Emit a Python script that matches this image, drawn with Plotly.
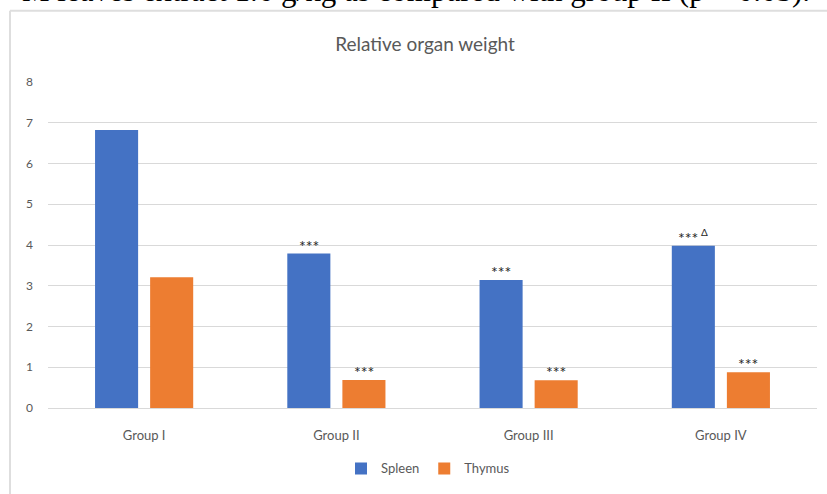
import plotly.graph_objects as go

# Relative organ weight per treatment group
groups = ["Group I", "Group II", "Group III", "Group IV"]
spleen = [6.82, 3.79, 3.14, 3.98]
thymus = [3.21, 0.69, 0.68, 0.88]
spleen_marks = ["", "***", "***", "***"]
thymus_marks = ["", "***", "***", "***"]
spleen_extra = ["", "", "", "Δ"]
y_ticks = [0, 1, 2, 3, 4, 5, 6, 7, 8]

W, H = 827, 494
ML, MR, MT, MB = 48, 10, 82, 83
PW, PH = W - ML - MR, H - MT - MB


def px_x(px):
    return (px - ML) / PW


def px_y(py):
    return (H - MB - py) / PH


grey = "#595959"
font_family = "Lato, 'Open Sans', sans-serif"

fig = go.Figure()
fig.add_trace(go.Bar(name="Spleen", x=groups, y=spleen, marker_color="#4472C4",
                     marker_line_width=0))
fig.add_trace(go.Bar(name="Thymus", x=groups, y=thymus, marker_color="#ED7D31",
                     marker_line_width=0))

annotations = []
mark_font = dict(size=16, color="#262626", family=font_family)
for g, v, t, extra in zip(groups, spleen, spleen_marks, spleen_extra):
    if t:
        # when a second marker follows, the asterisks move left to make room
        shift = -33 if extra else -27.5
        annotations.append(dict(x=g, y=v, xref="x", yref="y", text=t, showarrow=False,
                                xshift=shift, yshift=-3, yanchor="bottom", font=mark_font))
    if extra:
        annotations.append(dict(x=g, y=v, xref="x", yref="y", text=extra, showarrow=False,
                                xshift=-16, yshift=6, yanchor="bottom",
                                font=dict(size=10, color="#262626", family=font_family)))
for g, v, t in zip(groups, thymus, thymus_marks):
    if t:
        annotations.append(dict(x=g, y=v, xref="x", yref="y", text=t, showarrow=False,
                                xshift=27.5, yshift=-3, yanchor="bottom", font=mark_font))

# Line of running text sitting just above the chart frame
annotations.append(dict(
    x=px_x(812), y=px_y(-10.5), xref="paper", yref="paper", xanchor="right", yanchor="middle",
    text="M leaves extract 1.6 g/kg as compared with group II (p < 0.05).",
    showarrow=False, font=dict(size=31, color="#000000", family="'Liberation Serif', serif")))

shapes = [
    dict(type="line", xref="paper", yref="paper", x0=px_x(10), x1=px_x(10),
         y0=px_y(10), y1=px_y(H + 5), line=dict(color="#dedede", width=2)),
    dict(type="line", xref="paper", yref="paper", x0=px_x(10), x1=px_x(W + 5),
         y0=px_y(10), y1=px_y(10), line=dict(color="#dedede", width=2)),
]

fig.update_layout(
    width=W, height=H,
    margin=dict(l=ML, r=MR, t=MT, b=MB),
    paper_bgcolor="white", plot_bgcolor="white",
    barmode="group", bargap=0.427, bargroupgap=0.218,
    title=dict(text="Relative organ weight", x=425 / W, xanchor="center",
               y=1 - 44 / H, yanchor="middle",
               font=dict(size=19, color=grey, family=font_family)),
    font=dict(family=font_family, color=grey),
    legend=dict(orientation="h", x=px_x(428), xanchor="center", y=px_y(472), yanchor="middle",
                font=dict(size=13, color=grey), itemwidth=30, traceorder="normal"),
    annotations=annotations,
    shapes=shapes,
    xaxis=dict(showgrid=False, showline=False, ticks="", ticklabelstandoff=18,
               tickfont=dict(size=13, color=grey)),
    yaxis=dict(range=[0, 8], tickvals=y_ticks, showgrid=True, gridcolor="#d9d9d9",
               gridwidth=1, zeroline=True, zerolinecolor="#d9d9d9", zerolinewidth=1,
               showline=False, ticks="", ticklabelstandoff=14,
               tickfont=dict(size=12, color=grey)),
)

fig.write_html("out.html")
